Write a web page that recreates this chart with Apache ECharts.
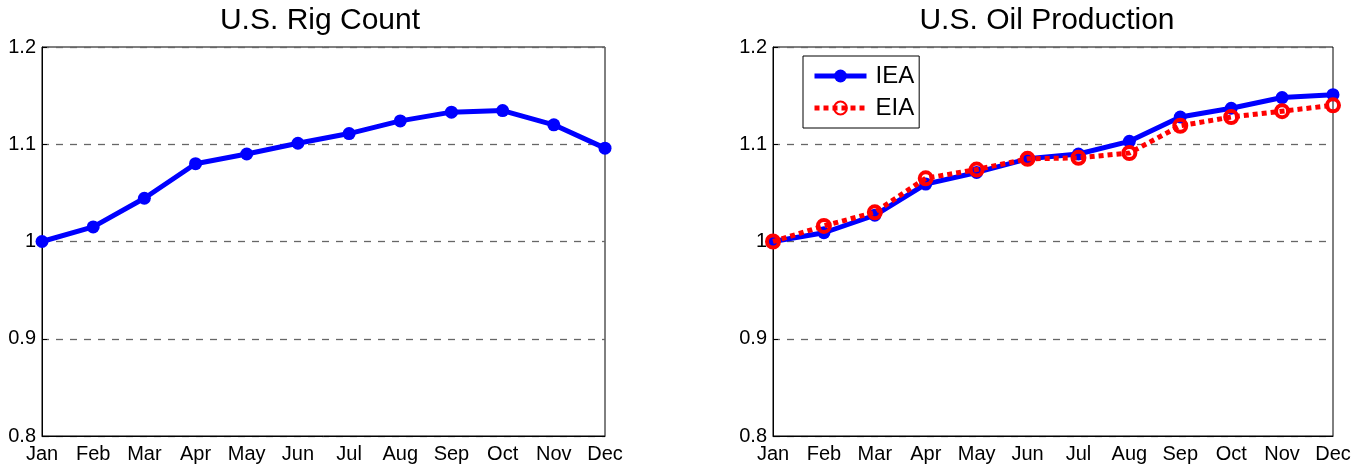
<!DOCTYPE html>
<html>
<head>
<meta charset="utf-8">
<script src="https://cdn.jsdelivr.net/npm/echarts@6/dist/echarts.min.js"></script>
<style>
  html, body { margin: 0; padding: 0; background: #fff; }
  #chart { width: 1364px; height: 470px; }
</style>
</head>
<body>
<div id="chart"></div>
<script>
const months = ['Jan', 'Feb', 'Mar', 'Apr', 'May', 'Jun', 'Jul', 'Aug', 'Sep', 'Oct', 'Nov', 'Dec']
const rigCount = [1.000, 1.015, 1.0445, 1.080, 1.090, 1.101, 1.111, 1.124, 1.133, 1.1346, 1.120, 1.096]
const ieaProd = [1.000, 1.009, 1.027, 1.059, 1.071, 1.085, 1.090, 1.103, 1.128, 1.137, 1.148, 1.151]
const eiaProd = [1.000, 1.016, 1.030, 1.065, 1.074, 1.085, 1.086, 1.091, 1.119, 1.128, 1.134, 1.140]
const yTicks = [0.8, 0.9, 1.0, 1.1, 1.2]

const font = 'Liberation Sans, Arial, sans-serif'

const xAxisFor = (gridIndex) => ({
  type: 'category',
  gridIndex: gridIndex,
  data: months,
  boundaryGap: false,
  axisLine: { lineStyle: { color: '#000', width: 1 } },
  axisTick: { show: false },
  axisLabel: { color: '#000', fontSize: 20, fontFamily: font, margin: 8, interval: 0 },
  splitLine: { show: false }
})

const yAxisFor = (gridIndex) => ({
  type: 'value',
  gridIndex: gridIndex,
  min: yTicks[0],
  max: yTicks[yTicks.length - 1],
  interval: 0.1,
  axisLine: { show: true, lineStyle: { color: '#000', width: 1 } },
  axisTick: { show: true, inside: true, length: 5, lineStyle: { color: '#000' } },
  axisLabel: {
    color: '#000', fontSize: 20, fontFamily: font, margin: 6,
    formatter: (v) => String(Math.round(v * 10) / 10)
  },
  splitLine: { show: true, lineStyle: { color: '#666', type: [7, 7], width: 1.3 } }
})

const options = {
  animation: false,
  backgroundColor: '#fff',
  title: [
    { text: 'U.S. Rig Count', left: 315, top: 1, textAlign: 'center',
      textStyle: { fontSize: 30, fontWeight: 'normal', color: '#000', fontFamily: font } },
    { text: 'U.S. Oil Production', left: 1042, top: 1, textAlign: 'center',
      textStyle: { fontSize: 30, fontWeight: 'normal', color: '#000', fontFamily: font } }
  ],
  legend: {
    data: ['IEA', 'EIA'],
    orient: 'vertical',
    left: 803,
    top: 56,
    padding: [8, 5, 8, 9],
    itemGap: 8,
    itemWidth: 52,
    itemHeight: 16,
    borderColor: '#000',
    borderWidth: 1,
    backgroundColor: '#fff',
    lineStyle: { width: 5 },
    textStyle: { fontSize: 24, color: '#000', fontFamily: font, padding: [0, 0, 0, 4] }
  },
  grid: [
    { left: 42, right: 759, top: 47, bottom: 34, show: true, borderColor: '#000', borderWidth: 1 },
    { left: 773, right: 31, top: 47, bottom: 34, show: true, borderColor: '#000', borderWidth: 1 }
  ],
  xAxis: [xAxisFor(0), xAxisFor(1)],
  yAxis: [yAxisFor(0), yAxisFor(1)],
  series: [
    {
      name: 'Rig',
      type: 'line',
      xAxisIndex: 0,
      yAxisIndex: 0,
      data: rigCount,
      symbol: 'circle',
      symbolSize: 13,
      lineStyle: { color: '#0000ff', width: 5 },
      itemStyle: { color: '#0000ff' },
      z: 3
    },
    {
      name: 'IEA',
      type: 'line',
      xAxisIndex: 1,
      yAxisIndex: 1,
      data: ieaProd,
      symbol: 'circle',
      symbolSize: 13,
      lineStyle: { color: '#0000ff', width: 5 },
      itemStyle: { color: '#0000ff' },
      z: 3
    },
    {
      name: 'EIA',
      type: 'line',
      xAxisIndex: 1,
      yAxisIndex: 1,
      data: eiaProd,
      symbol: 'circle',
      symbolSize: 12,
      lineStyle: { color: '#ff0000', width: 5, type: [5, 4] },
      itemStyle: { color: 'rgba(0,0,0,0)', borderColor: '#ff0000', borderWidth: 4 },
      z: 4
    }
  ]
}

const chartInstance = echarts.init(document.getElementById('chart'), null, { renderer: 'canvas' })
chartInstance.setOption(options)
</script>
</body>
</html>
